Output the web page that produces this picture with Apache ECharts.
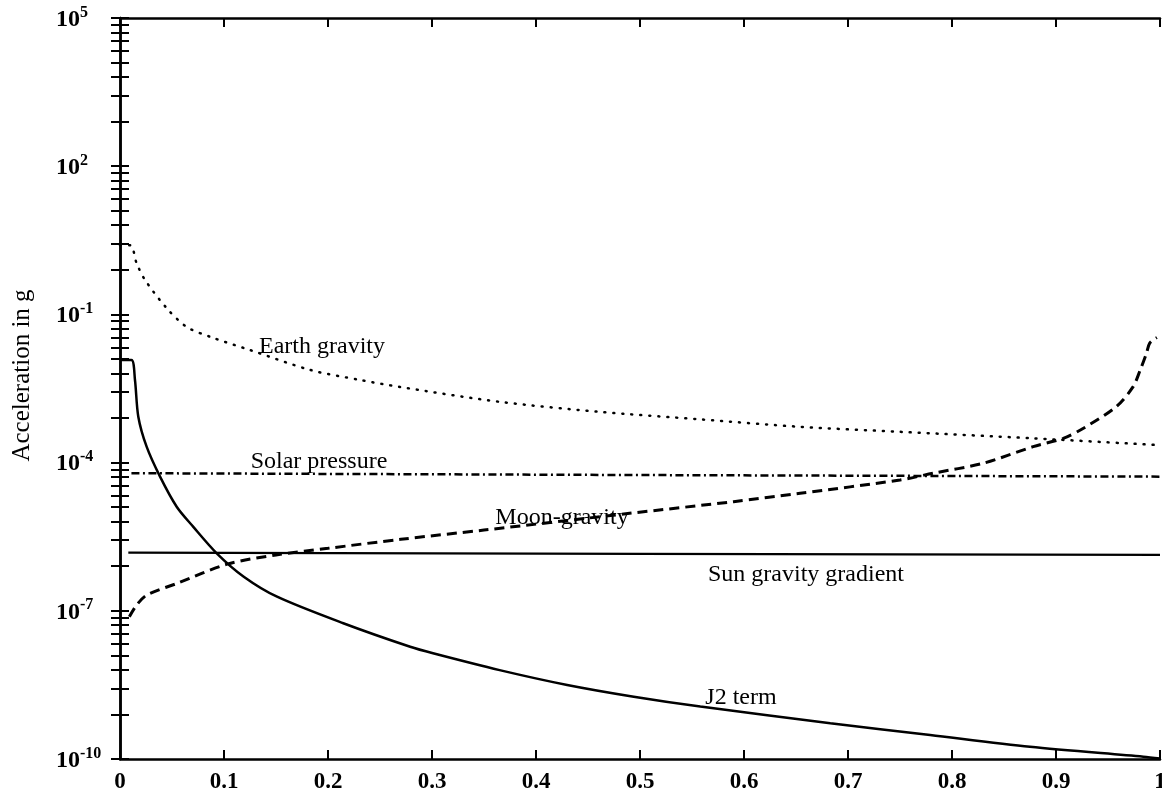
<!DOCTYPE html>
<html><head><meta charset="utf-8">
<script src="https://cdn.jsdelivr.net/npm/echarts@6/dist/echarts.min.js"></script>
<style>html,body{margin:0;padding:0;background:#fff}#c{width:1162px;height:800px}</style>
</head><body><div id="c"></div>
<script>
// ---- data (x = fraction, y = acceleration in g) ----
const earthGravity = [[0,2.5],[0.010,2.5],[0.016,1.08],[0.024,0.50],[0.045,0.133],[0.064,0.056],[0.087,0.035],[0.125,0.019],[0.183,0.0075],[0.231,0.0047],[0.269,0.0034],[0.365,0.0017],[0.46,0.00107],[0.558,0.00075],[0.654,0.00053],[0.75,0.00042],[0.878,0.00031],[1.0,0.000225]];
const solarPressure = [[0.011,6.1e-5],[0.5,5.6e-5],[1.0,5.2e-5]];
const sunGravityGradient = [[0.008,1.5e-6],[0.5,1.42e-6],[1.0,1.36e-6]];
const moonGravity = [[0.009,7.6e-8],[0.016,1.31e-7],[0.026,2.1e-7],[0.055,3.6e-7],[0.103,8.8e-7],[0.15,1.35e-6],[0.2,1.84e-6],[0.27,2.8e-6],[0.35,4.3e-6],[0.49,9.4e-6],[0.59,1.62e-5],[0.654,2.39e-5],[0.75,4.45e-5],[0.782,6.1e-5],[0.83,9.7e-5],[0.878,2.1e-4],[0.907,3.1e-4],[0.926,4.9e-4],[0.958,1.36e-3],[0.974,3.4e-3],[0.981,7.5e-3],[0.987,0.0163],[0.990,0.026],[0.997,0.034]];
const j2Term = [[0,0.0119],[0.011,0.0119],[0.0144,0.0047],[0.0176,8.5e-4],[0.0256,2.1e-4],[0.0385,5.2e-5],[0.0545,1.28e-5],[0.0705,5.0e-6],[0.093,1.46e-6],[0.119,4.9e-7],[0.151,1.93e-7],[0.2147,5.6e-8],[0.279,1.87e-8],[0.301,1.38e-8],[0.365,6.3e-9],[0.43,3.15e-9],[0.494,1.82e-9],[0.558,1.15e-9],[0.683,5.3e-10],[0.779,3.06e-10],[0.875,1.77e-10],[0.984,1.11e-10],[1.0,1.02e-10]];

const majorTicks = [1e-10,1e-7,1e-4,1e-1,1e2,1e5];
const minorTickFactors = [8,27,64,125,216,343,512,729];
const yTickValues = majorTicks.concat(...majorTicks.slice(0,-1).map(L => minorTickFactors.map(f => L*f)));

const curveLabels = ['Earth gravity','Solar pressure','Moon-gravity','Sun gravity gradient','J2 term'];

const SERIF = '"Liberation Serif", "DejaVu Serif", serif';

const chart = echarts.init(document.getElementById('c'));
const yBase = {
  type: 'log', min: 1e-10, max: 1e5, interval: 3, logBase: 10,
  splitLine: {show:false},
  axisLine: {show:true, lineStyle:{color:'#000', width:2.5}},
  axisTick: {show:true, inside:true, length:9, customValues: yTickValues, lineStyle:{color:'#000', width:2}},
  minorTick:{show:false}
};
const xBase = {
  type: 'value', min: 0, max: 1, interval: 0.1,
  splitLine: {show:false},
  axisLine: {show:true, onZero:false, lineStyle:{color:'#000', width:2.5}},
  axisTick: {show:true, inside:true, length:9, lineStyle:{color:'#000', width:2}}
};
const lblPos = [[322,347],[319,462],[562,518],[806,575],[741,698]];
chart.setOption({
  animation: false,
  backgroundColor: '#fff',
  grid: {left:120, right:2, top:18, bottom:41, containLabel:false, outerBoundsMode:'none'},
  xAxis: [
    Object.assign({}, xBase, {position:'bottom', axisLabel:{show:true, margin:12, color:'#000', fontFamily:SERIF, fontSize:23, fontWeight:'bold'}}),
    Object.assign({}, xBase, {position:'top', axisLabel:{show:false}})
  ],
  yAxis: [
    Object.assign({}, yBase, {position:'left',
      name: 'Acceleration in g', nameLocation:'middle', nameGap:85,
      nameTextStyle:{color:'#000', fontFamily:SERIF, fontSize:25, padding:[0,0,0,26]},
      axisLabel:{show:true, align:'left', margin:64, color:'#000',
        formatter: v => '{b|10}{s|' + Math.round(Math.log10(v)) + '}',
        rich:{ b:{fontFamily:SERIF, fontSize:24, fontWeight:'bold', color:'#000', lineHeight:27, verticalAlign:'bottom'},
               s:{fontFamily:SERIF, fontSize:16, fontWeight:'bold', color:'#000', lineHeight:14, verticalAlign:'top'} } }}),
    Object.assign({}, yBase, {position:'right', axisLabel:{show:false}})
  ],
  series: [
    {name:curveLabels[0], type:'line', data:earthGravity, showSymbol:false, smooth:0.3, lineStyle:{color:'#000', width:2.5, type:[1,8], cap:'round'}},
    {name:curveLabels[1], type:'line', data:solarPressure, showSymbol:false, lineStyle:{color:'#000', width:2.5, type:[8,3.5,2,3.5]}},
    {name:curveLabels[2], type:'line', data:moonGravity, showSymbol:false, smooth:0.3, lineStyle:{color:'#000', width:3, type:[10,6]}},
    {name:curveLabels[3], type:'line', data:sunGravityGradient, showSymbol:false, lineStyle:{color:'#000', width:2.2, type:'solid'}},
    {name:curveLabels[4], type:'line', data:j2Term, showSymbol:false, smooth:0.3, lineStyle:{color:'#000', width:2.5, type:'solid'}}
  ],
  graphic: curveLabels.map((t,i) => ({type:'text', x:lblPos[i][0], y:lblPos[i][1], z:100,
    style:{text:t, fill:'#000', font:'24px ' + SERIF, align:'center', verticalAlign:'middle'}}))
});
</script></body></html>
